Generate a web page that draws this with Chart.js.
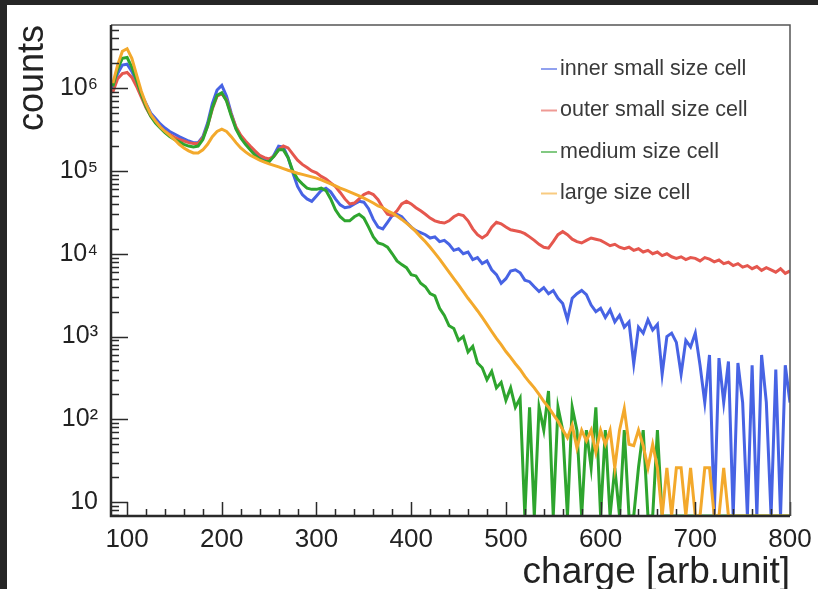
<!DOCTYPE html>
<html>
<head>
<meta charset="utf-8">
<title>charge spectra</title>
<script src="https://cdn.jsdelivr.net/npm/chart.js@4"></script>
<style>
  html, body { margin: 0; padding: 0; background: #262626; }
  #frame { position: absolute; left: 7px; top: 5px; width: 811px; height: 584px; background: #ffffff; }
  canvas { display: block; }
</style>
</head>
<body>
<div id="frame"><canvas id="chargeChart" width="811" height="584"></canvas></div>
<script>
// bin centres [arb.unit], 5 units wide
const chargeBins = [
  85, 90, 95, 100, 105, 110, 115, 120, 125, 130,
  135, 140, 145, 150, 155, 160, 165, 170, 175, 180,
  185, 190, 195, 200, 205, 210, 215, 220, 225, 230,
  235, 240, 245, 250, 255, 260, 265, 270, 275, 280,
  285, 290, 295, 300, 305, 310, 315, 320, 325, 330,
  335, 340, 345, 350, 355, 360, 365, 370, 375, 380,
  385, 390, 395, 400, 405, 410, 415, 420, 425, 430,
  435, 440, 445, 450, 455, 460, 465, 470, 475, 480,
  485, 490, 495, 500, 505, 510, 515, 520, 525, 530,
  535, 540, 545, 550, 555, 560, 565, 570, 575, 580,
  585, 590, 595, 600, 605, 610, 615, 620, 625, 630,
  635, 640, 645, 650, 655, 660, 665, 670, 675, 680,
  685, 690, 695, 700, 705, 710, 715, 720, 725, 730,
  735, 740, 745, 750, 755, 760, 765, 770, 775, 780,
  785, 790, 795, 800
];

const innerSmall = [
  1.0e6, 1.5e6, 1.9e6, 1.95e6, 1.6e6, 1.2e6, 8.5e5, 6.5e5, 5.0e5, 4.3e5,
  3.7e5, 3.3e5, 3.0e5, 2.8e5, 2.6e5, 2.45e5, 2.3e5, 2.2e5, 2.2e5, 2.6e5,
  3.8e5, 6.5e5, 9.5e5, 1.08e6, 8.0e5, 5.0e5, 3.3e5, 2.6e5, 2.2e5, 1.9e5,
  1.7e5, 1.5e5, 1.35e5, 1.3e5, 1.55e5, 2.0e5, 1.95e5, 1.45e5, 9.5e4, 6.5e4,
  5.2e4, 4.6e4, 4.3e4, 5.0e4, 5.8e4, 6.2e4, 5.6e4, 4.6e4, 3.9e4, 3.6e4,
  3.7e4, 4.0e4, 4.3e4, 4.2e4, 3.5e4, 2.6e4, 2.1e4, 2.0e4, 2.4e4, 2.9e4,
  3.0e4, 2.8e4, 2.4e4, 2.1e4, 1.9e4, 1.8e4, 1.7e4, 1.55e4, 1.6e4, 1.4e4,
  1.45e4, 1.3e4, 1.1e4, 1.15e4, 1.0e4, 1.05e4, 8.5e3, 9.0e3, 7.6e3, 8.2e3,
  6.4e3, 5.6e3, 4.4e3, 5.0e3, 6.2e3, 6.4e3, 5.9e3, 4.8e3, 4.6e3, 4.0e3,
  3.5e3, 3.9e3, 3.3e3, 3.6e3, 2.9e3, 2.5e3, 1.6e3, 2.9e3, 3.3e3, 3.6e3,
  3.2e3, 2.4e3, 2.0e3, 2.2e3, 1.7e3, 2.1e3, 1.5e3, 1.8e3, 1.3e3, 1.5e3,
  470, 1.3e3, 1.1e3, 1.6e3, 1.2e3, 1.4e3, 350, 1.0e3, 1.1e3, 850,
  350, 900, 750, 1.1e3, 450, 160, 600, 0, 550, 160,
  500, 0, 480, 160, 0, 450, 0, 600, 160, 0,
  400, 0, 450, 160
];

const outerSmall = [
  9.0e5, 1.3e6, 1.5e6, 1.55e6, 1.35e6, 1.05e6, 7.8e5, 5.8e5, 4.6e5, 3.9e5,
  3.4e5, 3.0e5, 2.75e5, 2.55e5, 2.4e5, 2.3e5, 2.2e5, 2.15e5, 2.15e5, 2.5e5,
  3.5e5, 5.6e5, 8.0e5, 8.6e5, 7.2e5, 4.8e5, 3.4e5, 2.7e5, 2.3e5, 2.0e5,
  1.75e5, 1.55e5, 1.45e5, 1.4e5, 1.5e5, 1.8e5, 2.0e5, 1.9e5, 1.6e5, 1.35e5,
  1.2e5, 1.1e5, 1.0e5, 9.5e4, 8.6e4, 8.0e4, 7.2e4, 6.5e4, 5.5e4, 4.6e4,
  4.0e4, 4.1e4, 4.6e4, 5.2e4, 5.5e4, 5.2e4, 4.5e4, 3.6e4, 3.0e4, 2.9e4,
  3.3e4, 4.0e4, 4.3e4, 4.0e4, 3.6e4, 3.3e4, 3.0e4, 2.7e4, 2.5e4, 2.4e4,
  2.35e4, 2.5e4, 2.8e4, 3.0e4, 2.9e4, 2.5e4, 2.0e4, 1.7e4, 1.55e4, 1.7e4,
  2.1e4, 2.4e4, 2.3e4, 2.1e4, 1.95e4, 1.9e4, 1.85e4, 1.75e4, 1.6e4, 1.45e4,
  1.3e4, 1.2e4, 1.17e4, 1.4e4, 1.7e4, 1.85e4, 1.7e4, 1.5e4, 1.4e4, 1.35e4,
  1.45e4, 1.55e4, 1.5e4, 1.45e4, 1.35e4, 1.25e4, 1.3e4, 1.2e4, 1.15e4, 1.2e4,
  1.1e4, 1.15e4, 1.05e4, 1.1e4, 1.0e4, 1.05e4, 9.5e3, 1.0e4, 9.2e3, 8.8e3,
  9.2e3, 8.5e3, 9.0e3, 8.8e3, 8.2e3, 9.0e3, 8.6e3, 8.0e3, 8.4e3, 7.6e3,
  7.9e3, 7.2e3, 7.6e3, 6.9e3, 7.2e3, 6.6e3, 7.0e3, 6.3e3, 6.8e3, 6.4e3,
  6.0e3, 6.6e3, 5.8e3, 6.2e3
];

const mediumCell = [
  1.05e6, 1.7e6, 2.3e6, 2.35e6, 1.8e6, 1.25e6, 8.4e5, 6.0e5, 4.6e5, 3.8e5,
  3.3e5, 2.9e5, 2.6e5, 2.4e5, 2.25e5, 2.1e5, 2.0e5, 1.95e5, 2.0e5, 2.4e5,
  3.5e5, 5.8e5, 8.2e5, 8.8e5, 7.0e5, 4.6e5, 3.2e5, 2.5e5, 2.1e5, 1.8e5,
  1.55e5, 1.4e5, 1.3e5, 1.3e5, 1.5e5, 1.8e5, 1.8e5, 1.45e5, 1.0e5, 8.0e4,
  7.0e4, 6.2e4, 6.0e4, 6.0e4, 6.2e4, 5.8e4, 4.6e4, 3.4e4, 2.8e4, 2.5e4,
  2.5e4, 2.8e4, 3.0e4, 2.7e4, 2.1e4, 1.6e4, 1.35e4, 1.3e4, 1.2e4, 1.0e4,
  8.2e3, 7.4e3, 6.8e3, 5.6e3, 5.4e3, 4.4e3, 4.0e3, 3.3e3, 3.1e3, 2.2e3,
  1.8e3, 1.35e3, 1.25e3, 900, 1.0e3, 650, 760, 480, 420, 300,
  380, 240, 280, 170, 240, 140, 180, 0, 140, 0,
  140, 74, 220, 0, 140, 74, 0, 140, 74, 0,
  74, 26, 140, 0, 74, 0, 26, 0, 74, 0,
  0, 26, 74, 0, 0, 74, 0, 0, 0, 0,
  0, 0, 0, 0, 0, 0, 0, 0, 0, 0,
  0, 0, 0, 0, 0, 0, 0, 0, 0, 0,
  0, 0, 0, 0
];

const largeCell = [
  1.15e6, 1.9e6, 2.8e6, 3.0e6, 2.3e6, 1.45e6, 9.2e5, 6.4e5, 4.8e5, 4.0e5,
  3.4e5, 3.0e5, 2.7e5, 2.4e5, 2.1e5, 1.9e5, 1.75e5, 1.65e5, 1.65e5, 1.8e5,
  2.1e5, 2.6e5, 3.0e5, 3.2e5, 3.0e5, 2.6e5, 2.2e5, 1.9e5, 1.7e5, 1.55e5,
  1.45e5, 1.35e5, 1.28e5, 1.22e5, 1.17e5, 1.12e5, 1.07e5, 1.02e5, 9.8e4, 9.4e4,
  9.1e4, 8.8e4, 8.5e4, 8.2e4, 7.8e4, 7.4e4, 7.0e4, 6.6e4, 6.2e4, 5.9e4,
  5.6e4, 5.3e4, 5.0e4, 4.7e4, 4.4e4, 4.1e4, 3.8e4, 3.6e4, 3.3e4, 3.1e4,
  2.85e4, 2.6e4, 2.35e4, 2.1e4, 1.85e4, 1.6e4, 1.4e4, 1.2e4, 1.02e4, 8.6e3,
  7.2e3, 6.0e3, 5.0e3, 4.2e3, 3.5e3, 2.9e3, 2.45e3, 2.05e3, 1.7e3, 1.4e3,
  1.15e3, 950, 800, 660, 560, 470, 400, 330, 280, 240,
  200, 165, 140, 115, 95, 75, 60, 85, 45, 74,
  55, 74, 40, 74, 50, 74, 26, 74, 135, 50,
  48, 74, 48, 26, 50, 26, 0, 26, 0, 26,
  26, 0, 26, 0, 0, 26, 26, 0, 0, 26,
  0, 0, 0, 0, 0, 0, 0, 0, 0, 0,
  0, 0, 0, 0
];

const seriesLabels = ['inner small size cell', 'outer small size cell', 'medium size cell', 'large size cell'];
const seriesColors = ['#4763e4', '#e5574e', '#2ea52e', '#f3a92c'];

const xTicks = [100, 200, 300, 400, 500, 600, 700, 800];
const yTicks = [10, 100, 1e3, 1e4, 1e5, 1e6];
const yTickLabels = ['10', '10²', '10³', '10⁴', '10⁵', '10⁶'];

const X_MIN = 83, X_MAX = 800;
const Y_MIN = 6.8, Y_MAX = 5.8e6;
const FONT = '"Liberation Sans", Arial, Helvetica, sans-serif';

// empty bins sit on the axis floor, like ROOT draws them
function toPoints(counts) {
    return counts.map((c, i) => ({ x: chargeBins[i], y: c > 0 ? c : Y_MIN }));
}

// ROOT style frame: ticks pointing into the pad
const rootFrame = {
    id: 'rootFrame',
    afterDatasetsDraw(chart) {
        const { ctx, chartArea: a, scales: { x, y } } = chart;
        ctx.save();
        ctx.strokeStyle = '#2a2a2a';
        ctx.lineWidth = 1.5;
        ctx.beginPath();
        // y axis ticks
        for (let e = 0; e <= 6; e++) {
            for (let m = 1; m <= 9; m++) {
                const v = m * Math.pow(10, e);
                if (v < Y_MIN || v > Y_MAX) continue;
                const py = Math.round(y.getPixelForValue(v)) + 0.5;
                const len = m === 1 ? 17 : 8;
                ctx.moveTo(a.left, py);
                ctx.lineTo(a.left + len, py);
            }
        }
        // x axis ticks, minor every 20
        for (let v = 100; v <= X_MAX; v += 20) {
            const px = Math.round(x.getPixelForValue(v)) + 0.5;
            const len = xTicks.includes(v) ? 14 : 7;
            ctx.moveTo(px, a.bottom);
            ctx.lineTo(px, a.bottom - len);
        }
        ctx.stroke();

        // frame
        ctx.lineWidth = 1.5;
        ctx.strokeStyle = '#555';
        ctx.beginPath();
        ctx.moveTo(a.left, a.top);
        ctx.lineTo(a.right, a.top);
        ctx.lineTo(a.right, a.bottom);
        ctx.stroke();
        ctx.lineWidth = 2.5;
        ctx.strokeStyle = '#2a2a2a';
        ctx.beginPath();
        ctx.moveTo(a.left, a.top);
        ctx.lineTo(a.left, a.bottom);
        ctx.lineTo(a.right, a.bottom);
        ctx.stroke();
        ctx.restore();
    },
    afterDraw(chart) {
        // legend without a box, top right inside the pad
        const { ctx, chartArea: a } = chart;
        ctx.save();
        ctx.font = '21.5px ' + FONT;
        ctx.textBaseline = 'middle';
        ctx.textAlign = 'left';
        chart.data.datasets.forEach((ds, i) => {
            const ty = a.top + 44 + i * 41.5;
            const tx = a.left + 449;
            ctx.strokeStyle = ds.borderColor;
            ctx.globalAlpha = 0.6;
            ctx.lineWidth = 2;
            ctx.beginPath();
            ctx.moveTo(tx - 19, ty);
            ctx.lineTo(tx - 3, ty);
            ctx.stroke();
            ctx.globalAlpha = 1;
            ctx.fillStyle = '#3a3a3a';
            ctx.fillText(ds.label, tx, ty);
        });
        ctx.restore();
    }
};

const series = [innerSmall, outerSmall, mediumCell, largeCell];

new Chart(document.getElementById('chargeChart'), {
    type: 'line',
    data: {
        datasets: series.map((counts, i) => ({
            label: seriesLabels[i],
            data: toPoints(counts),
            borderColor: seriesColors[i],
            backgroundColor: seriesColors[i],
            borderWidth: 3,
            tension: 0,
            pointRadius: 0,
            fill: false,
            order: 3 - i
        }))
    },
    options: {
        responsive: false,
        animation: false,
        events: [],
        layout: { padding: { top: 17, right: 28, left: 0, bottom: 0 } },
        plugins: {
            legend: { display: false },
            tooltip: { enabled: false }
        },
        scales: {
            x: {
                type: 'linear',
                min: X_MIN,
                max: X_MAX,
                grid: { display: false },
                border: { display: false },
                afterBuildTicks: scale => { scale.ticks = xTicks.map(v => ({ value: v })); },
                afterFit: scale => { scale.height = 73; },
                ticks: {
                    color: '#222',
                    padding: 3,
                    maxRotation: 0,
                    font: { family: FONT, size: 26, lineHeight: 1.0 }
                },
                title: {
                    display: true,
                    text: 'charge [arb.unit]',
                    align: 'end',
                    color: '#222',
                    padding: { top: 0, bottom: 0 },
                    font: { family: FONT, size: 37, lineHeight: 0.9 }
                }
            },
            y: {
                type: 'logarithmic',
                min: Y_MIN,
                max: Y_MAX,
                grid: { display: false },
                border: { display: false },
                afterBuildTicks: scale => { scale.ticks = yTicks.map(v => ({ value: v })); },
                afterFit: scale => { scale.width = 104; },
                ticks: {
                    color: '#222',
                    padding: 5,
                    font: { family: FONT, size: 25 },
                    callback: value => yTickLabels[yTicks.indexOf(value)]
                },
                title: {
                    display: true,
                    text: 'counts',
                    align: 'end',
                    color: '#222',
                    padding: { top: 4, bottom: 0 },
                    font: { family: FONT, size: 36, lineHeight: 1.2 }
                }
            }
        }
    },
    plugins: [rootFrame]
});
</script>
</body>
</html>
